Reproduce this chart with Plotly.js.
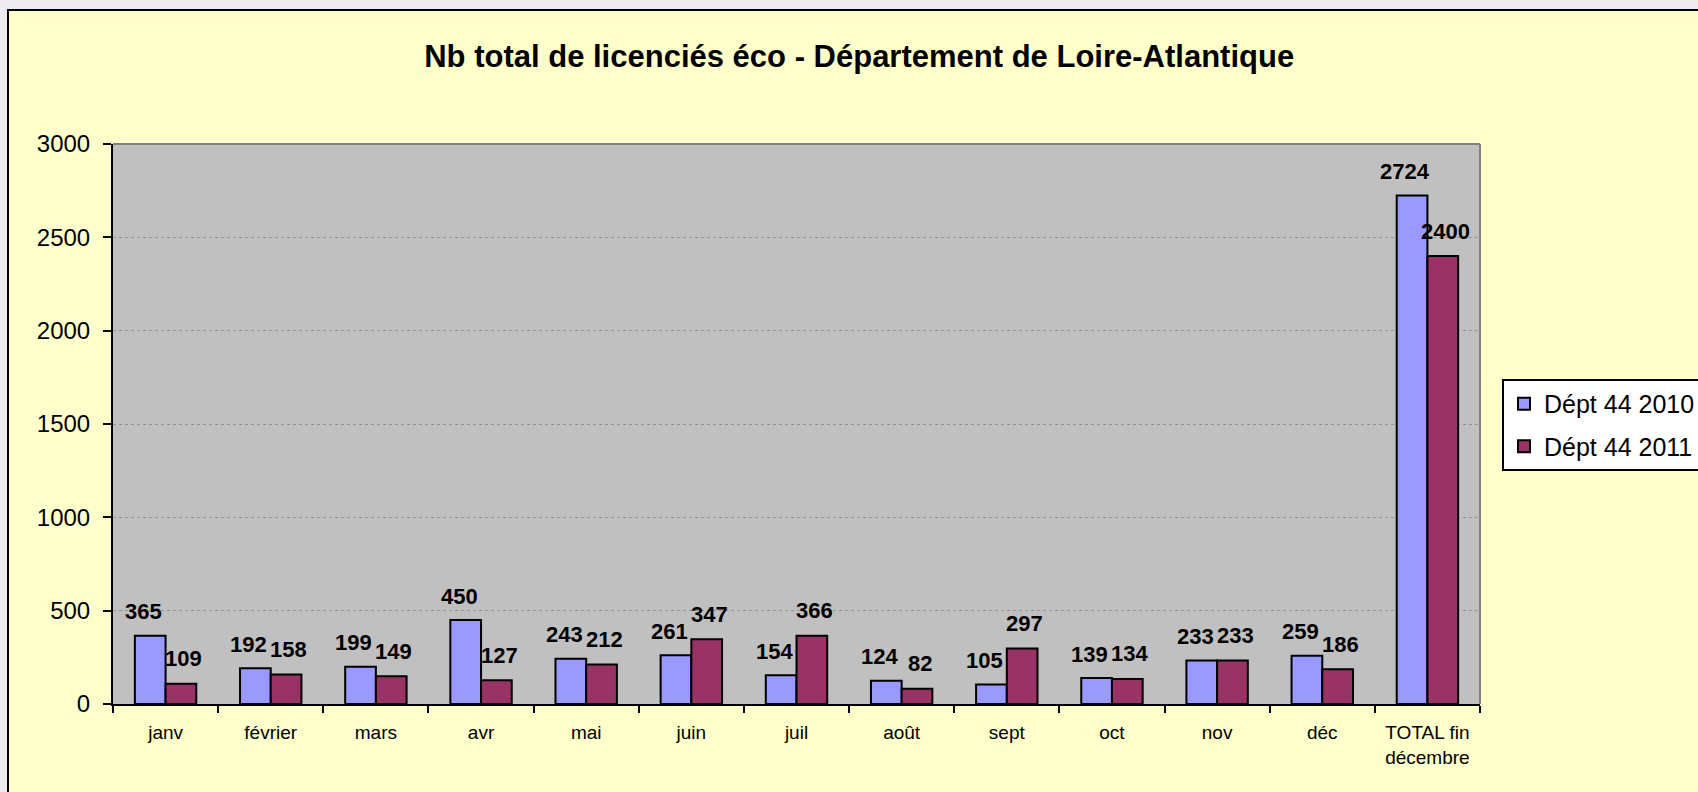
<!DOCTYPE html>
<html>
<head>
<meta charset="utf-8">
<script src="https://cdn.plot.ly/plotly-3.0.1.min.js"></script>
<style>
  html, body { margin: 0; padding: 0; overflow: hidden; background: #EDEBF0; width: 1698px; height: 792px; }
  #frame { position: absolute; left: 7px; top: 9px; width: 1760px; height: 860px;
           border-left: 2px solid #000; border-top: 2px solid #000; background: #FFFFCC; }
  #chart { position: absolute; left: 0; top: 0; width: 1698px; height: 792px; }
</style>
</head>
<body>
<div id="frame"></div>
<div id="chart"></div>
<script>
const categories = ["janv", "février", "mars", "avr", "mai", "juin", "juil", "août", "sept", "oct", "nov", "déc", "TOTAL fin<br>décembre"];
const dept2010 = [365, 192, 199, 450, 243, 261, 154, 124, 105, 139, 233, 259, 2724];
const dept2011 = [109, 158, 149, 127, 212, 347, 366, 82, 297, 134, 233, 186, 2400];
const seriesNames = ["Dépt 44 2010", "Dépt 44 2011"];
const titleText = "Nb total de licenciés éco - Département de Loire-Atlantique";
const yTicks = [0, 500, 1000, 1500, 2000, 2500, 3000];

const FONT = "Liberation Sans, Arial, Helvetica, sans-serif";

const traces = [
  {
    type: "bar", name: seriesNames[0], x: categories, y: dept2010,
    legendgroup: "a",
    marker: { color: "#9999FF", line: { color: "#000000", width: 2 } },
    hoverinfo: "skip"
  },
  {
    type: "bar", name: seriesNames[1], x: categories, y: dept2011,
    legendgroup: "b",
    marker: { color: "#993366", line: { color: "#000000", width: 2 } },
    hoverinfo: "skip"
  }
];

const annotations = [];
categories.forEach((c, i) => {
  annotations.push({
    x: c, y: dept2010[i], xref: "x", yref: "y", text: String(dept2010[i]),
    showarrow: false, xanchor: "center", yanchor: "middle", xshift: -22, yshift: 24,
    font: { family: FONT, size: 22, color: "#000000", weight: 700 }
  });
  annotations.push({
    x: c, y: dept2011[i], xref: "x", yref: "y", text: String(dept2011[i]),
    showarrow: false, xanchor: "center", yanchor: "middle", xshift: 18, yshift: 25,
    font: { family: FONT, size: 22, color: "#000000", weight: 700 }
  });
});

const layout = {
  width: 1698, height: 792,
  paper_bgcolor: "rgba(0,0,0,0)",
  plot_bgcolor: "#C0C0C0",
  margin: { l: 113, r: 218, t: 144, b: 88, autoexpand: false },
  font: { family: FONT, color: "#000000" },
  title: {
    text: titleText,
    font: { family: FONT, size: 31, color: "#000000", weight: 700 },
    x: 0.506, xanchor: "center", y: 0.929, yanchor: "middle"
  },
  barmode: "group",
  bargap: 0.416,
  bargroupgap: 0,
  showlegend: true,
  legend: {
    x: 1.0161, y: 0.5804, xanchor: "left", yanchor: "top",
    bgcolor: "#FFFFFF", bordercolor: "#000000", borderwidth: 2,
    font: { family: FONT, size: 25, color: "#000000" },
    traceorder: "grouped", tracegroupgap: 7
  },
  xaxis: {
    type: "category",
    tickson: "boundaries",
    ticks: "outside", ticklen: 7, tickwidth: 2, tickcolor: "#000000",
    showline: true, linecolor: "#000000", linewidth: 2,
    showgrid: false, zeroline: false,
    tickfont: { family: FONT, size: 19, color: "#000000" },
    ticklabelstandoff: 10,
    fixedrange: true
  },
  yaxis: {
    range: [0, 3000],
    tickvals: yTicks,
    ticktext: yTicks.map(String),
    ticks: "outside", ticklen: 8, tickwidth: 2, tickcolor: "#000000",
    showline: true, linecolor: "#000000", linewidth: 2,
    showgrid: true, gridcolor: "#939393", gridwidth: 1, griddash: "dot",
    zeroline: false,
    tickfont: { family: FONT, size: 24, color: "#000000" },
    ticklabelstandoff: 8,
    fixedrange: true
  },
  shapes: [
    { type: "line", xref: "paper", yref: "paper", x0: 0, x1: 1, y0: 1, y1: 1,
      line: { color: "#808080", width: 2 }, layer: "above" },
    { type: "line", xref: "paper", yref: "paper", x0: 1, x1: 1, y0: 0, y1: 1,
      line: { color: "#808080", width: 2 }, layer: "above" }
  ],
  annotations: annotations,
  hovermode: false
};

Plotly.newPlot("chart", traces, layout, { displayModeBar: false, staticPlot: true });
</script>
</body>
</html>
